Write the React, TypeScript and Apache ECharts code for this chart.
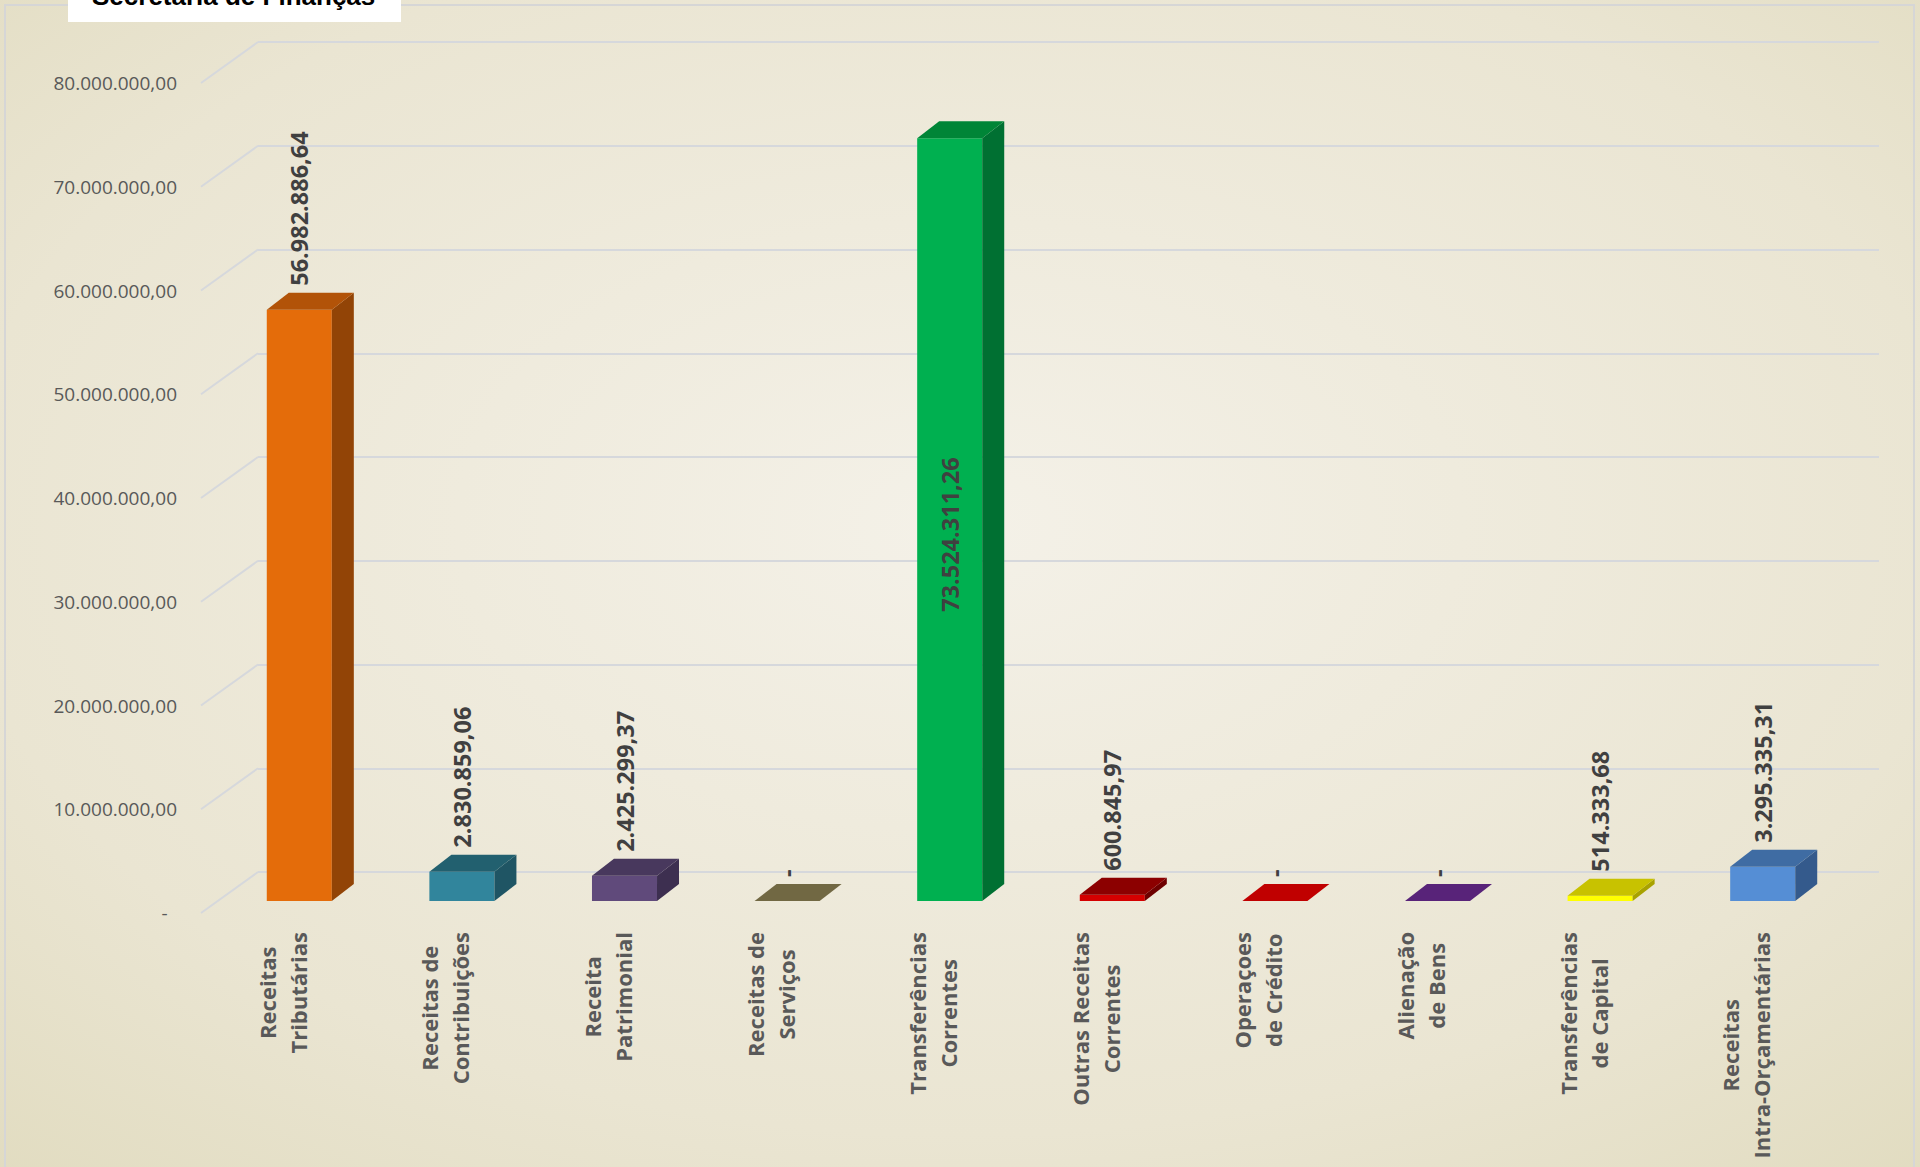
import React, { useEffect, useRef } from "react";
import * as echarts from "echarts";

const categories = [
  "Receitas\nTributárias",
  "Receitas de\nContribuições",
  "Receita\nPatrimonial",
  "Receitas de\nServiços",
  "Transferências\nCorrentes",
  "Outras Receitas\nCorrentes",
  "Operaçoes\nde Crédito",
  "Alienação\nde Bens",
  "Transferências\nde Capital",
  "Receitas\nIntra-Orçamentárias",
];
const values = [
  56982886.64, 2830859.06, 2425299.37, 0, 73524311.26, 600845.97, 0, 0,
  514333.68, 3295335.31,
];
const frontColors = ["#E46C0A", "#31859C", "#604A7B", "#6F6640", "#00B050", "#D40000", "#C00000", "#5A2180", "#FFFF00", "#558ED5"];
const topColors = ["#B25308", "#22606F", "#48385D", "#716843", "#008537", "#8C0000", "#C00000", "#582379", "#C8C200", "#3F6CA3"];
const sideColors = ["#924406", "#1F5564", "#3D2F50", "#5C5535", "#007032", "#6E0000", "#A00000", "#4A1B6A", "#A8A200", "#345A8C"];
const yTicks = [0, 10000000, 20000000, 30000000, 40000000, 50000000, 60000000, 70000000, 80000000];
const titleText = "Secretaria de Finanças";

const FONT = "'Open Sans', 'DejaVu Sans', sans-serif";

function fmtBR(v: number): string {
  const [i, d] = v.toFixed(2).split(".");
  return i.replace(/\B(?=(\d{3})+(?!\d))/g, ".") + "," + d;
}

export default function App() {
  const ref = useRef<HTMLDivElement>(null);
  useEffect(() => {
    if (!ref.current) return;
    const chart = echarts.init(ref.current, undefined, { renderer: "svg" });
    const yMax = yTicks[yTicks.length - 1];
    const DX = 22, DY = -17;
    const option: any = {
      animation: false,
      grid: [
        { left: 258, right: 41, top: 42, bottom: 295 },
        { left: 201, right: 93, top: 83, bottom: 254 },
        { left: 218, right: 76, top: 71, bottom: 266 },
      ],
      xAxis: [
        { gridIndex: 0, type: "value", min: 0, max: 1, show: false },
        {
          gridIndex: 1,
          type: "category",
          data: categories,
          axisLine: { show: false },
          axisTick: { show: false },
          axisLabel: {
            interval: 0,
            rotate: 90,
            margin: 19,
            fontFamily: FONT,
            fontWeight: "bold",
            fontSize: 22,
            color: "#595959",
            lineHeight: 31,
            formatter: (val: string) =>
              val.split("\n").map((s) => `{c|${s}}`).join("\n"),
            rich: {
              c: {
                align: "center",
                fontFamily: FONT,
                fontWeight: "bold",
                fontSize: 22,
                color: "#595959",
                lineHeight: 31,
              },
            },
          },
        },
        { gridIndex: 2, type: "category", data: categories, show: false },
      ],
      yAxis: [
        {
          gridIndex: 0,
          type: "value",
          min: 0,
          max: yMax,
          interval: 10000000,
          axisLabel: { show: false },
          axisLine: { show: false },
          axisTick: { show: false },
          splitLine: { show: true, lineStyle: { color: "#D6D8DC", width: 2 } },
        },
        {
          gridIndex: 1,
          type: "value",
          min: 0,
          max: yMax,
          interval: 10000000,
          axisLine: { show: false },
          axisTick: { show: false },
          splitLine: { show: false },
          axisLabel: {
            margin: 24,
            fontFamily: FONT,
            fontSize: 19,
            color: "#595959",
            formatter: (v: number) => (v === 0 ? "-\u2002" : fmtBR(v)),
          },
        },
        { gridIndex: 2, type: "value", min: 0, max: yMax, show: false },
      ],
      graphic: [
        {
          type: "rect",
          z: -100,
          silent: true,
          shape: { x: 0, y: 0, width: 1920, height: 1167 },
          style: {
            fill: {
              type: "radial",
              x: 0.5,
              y: 0.45,
              r: 0.95,
              colorStops: [
                { offset: 0, color: "#F4F1E8" },
                { offset: 0.55, color: "#EAE5D2" },
                { offset: 1, color: "#DAD4B1" },
              ],
            },
          },
        },
        {
          type: "rect",
          z: -90,
          silent: true,
          shape: { x: 5, y: 5, width: 1909, height: 1200 },
          style: { fill: "none", stroke: "#D6D6D6", lineWidth: 2 },
        },
        {
          type: "rect",
          z: 10,
          shape: { x: 68, y: -10, width: 333, height: 32 },
          style: { fill: "#FFFFFF" },
        },
        {
          type: "text",
          z: 11,
          x: 92,
          y: -4,
          style: {
            text: titleText,
            fill: "#000000",
            font: "bold 26px 'Liberation Sans', Arial, sans-serif",
            align: "left",
            verticalAlign: "middle",
          },
        },
      ],
      series: [
        {
          type: "custom",
          xAxisIndex: 1,
          yAxisIndex: 1,
          silent: true,
          data: yTicks.map((v) => [0, v]),
          renderItem: (params: any, api: any) => {
            const p = api.coord([0, api.value(1)]);
            const band = api.size([1, 0])[0];
            const x = p[0] - band / 2;
            return {
              type: "line",
              shape: { x1: x, y1: p[1], x2: x + 57, y2: p[1] - 41 },
              style: { stroke: "#D6D8DC", lineWidth: 2 },
            };
          },
        },
        {
          type: "custom",
          xAxisIndex: 2,
          yAxisIndex: 2,
          silent: true,
          data: values.map((v, i) => [i, v]),
          renderItem: (params: any, api: any) => {
            const i = api.value(0);
            const v = api.value(1);
            const base = api.coord([i, 0]);
            const top = api.coord([i, v]);
            const band = api.size([1, 0])[0];
            const w = band * 0.4;
            const x0 = base[0] - w / 2;
            const x1 = base[0] + w / 2;
            const yb = base[1];
            const yt = top[1];
            const children: any[] = [];
            if (yb - yt > 0.3) {
              children.push({
                type: "rect",
                shape: { x: x0, y: yt, width: w, height: yb - yt },
                style: { fill: frontColors[i] },
              });
              children.push({
                type: "polygon",
                shape: {
                  points: [
                    [x1, yb],
                    [x1 + DX, yb + DY],
                    [x1 + DX, yt + DY],
                    [x1, yt],
                  ],
                },
                style: { fill: sideColors[i] },
              });
            }
            children.push({
              type: "polygon",
              shape: {
                points: [
                  [x0, yt],
                  [x1, yt],
                  [x1 + DX, yt + DY],
                  [x0 + DX, yt + DY],
                ],
              },
              style: { fill: topColors[i] },
            });
            const label = v === 0 ? "-" : fmtBR(v);
            const labelStart = yt + DY - 7;
            const inside = labelStart - 175 < 71;
            const font = `bold 23.5px ${FONT}`;
            if (inside) {
              children.push({
                type: "text",
                x: base[0],
                y: (yt + yb) / 2 + 15,
                rotation: Math.PI / 2,
                style: {
                  text: label,
                  fill: "#404040",
                  font,
                  align: "center",
                  verticalAlign: "middle",
                },
              });
            } else {
              children.push({
                type: "text",
                x: base[0],
                y: labelStart,
                rotation: Math.PI / 2,
                style: {
                  text: label,
                  fill: "#404040",
                  font,
                  align: "left",
                  verticalAlign: "middle",
                },
              });
            }
            return { type: "group", children };
          },
        },
      ],
    };
    chart.setOption(option);
    return () => chart.dispose();
  }, []);
  return (
    <div
      ref={ref}
      style={{ position: "absolute", left: 0, top: 0, width: 1920, height: 1167 }}
    />
  );
}
